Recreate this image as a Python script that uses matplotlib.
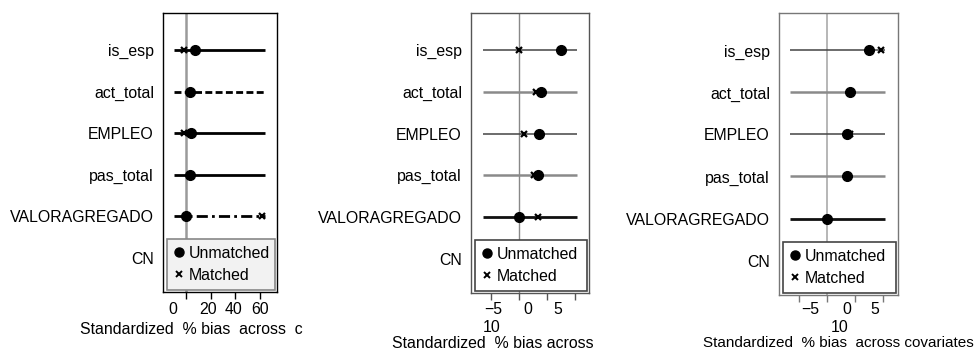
import matplotlib
matplotlib.use("Agg")
import matplotlib.pyplot as plt
import matplotlib.transforms as mtransforms
import numpy as np
from matplotlib.lines import Line2D

plt.rcParams["font.family"] = ["Liberation Sans", "DejaVu Sans"]
plt.rcParams["font.size"] = 11.4

# data
variables = ["is_esp", "act_total", "EMPLEO", "pas_total", "VALORAGREGADO", "CN"]
nan = np.nan

unmatched_1 = [7.3, 3.4, 3.7, 3.0, 0.0, nan]
matched_1 = [-1.6, nan, -1.6, nan, 62.0, nan]
range_1 = (-9.8, 64.0)

unmatched_2 = [7.5, 3.9, 3.6, 3.4, 0.0, nan]
matched_2 = [0.0, 3.0, 0.9, 2.7, 3.4, nan]
range_2 = (-6.4, 10.4)

unmatched_3 = [7.5, 4.1, 3.6, 3.6, 0.0, nan]
matched_3 = [9.6, nan, 4.1, nan, nan, nan]
range_3 = (-6.6, 10.4)

ticks_1 = [0, 20, 40, 60]
ticks_23 = [-5, 0, 5, 10]
# tick labels as printed (shifted in the source image)
labels_1 = [(-11, "0"), (17.6, "20"), (39, "40"), (60, "60")]
labels_2 = [(-4.6, "\u22125"), (1.6, "0"), (7.0, "5")]
labels_2b = [(-5.0, "10")]
labels_3 = [(-3.0, "\u22125"), (3.6, "0"), (8.6, "5")]
labels_3b = [(2.3, "10")]

W, H = 977, 352
fig = plt.figure(figsize=(W / 100, H / 100), dpi=100)


def px(x0, y0, x1, y1):
    return [x0 / W, 1 - y1 / H, (x1 - x0) / W, (y1 - y0) / H]


panels = [
    dict(rect=px(163, 13, 277, 292), unm=unmatched_1, mat=matched_1, rng=range_1,
         xlim=(-18.7, 74), ticks=ticks_1, spine="black",
         styles=["-", (0, (2.5, 1.2)), "-", "-", (0, (4, 1.5, 1, 1.5))],
         colors=["black"] * 5, lws=[2] * 5,
         vcolor="#9a9a9a", vlw=1.8, lab=labels_1, labb=[], title="Standardized  % bias  across  c",
         title_x=80, title_y=329, title_ha="left", title_fs=11.4,
         legface="#f2f2f2", legedge="#888888"),
    dict(rect=px(471, 13, 589, 293), unm=unmatched_2, mat=matched_2, rng=range_2,
         xlim=(-8.6, 12.5), ticks=ticks_23, spine="#555555",
         styles=["-"] * 5, colors=["#444444", "#8a8a8a", "#444444", "#8a8a8a", "#111111"],
         lws=[1.1, 1.8, 1.1, 1.8, 2.0],
         vcolor="#888888", vlw=1.0, lab=labels_2, labb=labels_2b, title="Standardized  % bias across",
         title_x=493, title_y=343, title_ha="center", title_fs=11.4,
         legface="white", legedge="#444444"),
    dict(rect=px(779, 13, 898, 295), unm=unmatched_3, mat=matched_3, rng=range_3,
         xlim=(-8.6, 12.7), ticks=ticks_23, spine="#777777",
         styles=["-"] * 5, colors=["#444444", "#8a8a8a", "#444444", "#8a8a8a", "#111111"],
         lws=[1.1, 1.8, 1.1, 1.8, 2.0],
         vcolor="#aaaaaa", vlw=1.2, lab=labels_3, labb=labels_3b,
         title="Standardized  % bias  across covariates",
         title_x=974, title_y=343, title_ha="right", title_fs=11.0,
         legface="white", legedge="#444444"),
]

ypos = np.arange(len(variables))[::-1] + 1  # is_esp at top

for p in panels:
    ax = fig.add_axes(p["rect"])
    ax.set_xlim(*p["xlim"])
    ax.set_ylim(0.18, 6.89)
    ax.axvline(0, color=p["vcolor"], lw=p["vlw"], zorder=1)
    for i in range(5):
        ax.hlines(ypos[i], p["rng"][0], p["rng"][1], color=p["colors"][i],
                  lw=p["lws"][i], linestyle=p["styles"][i], zorder=2)
    ax.plot(p["mat"], ypos, "x", color="black", ms=4.5, mew=1.6, zorder=3)
    ax.plot(p["unm"], ypos, "o", color="black", ms=7, zorder=4)

    ax.set_yticks(ypos)
    ax.set_yticklabels(variables)
    ax.tick_params(axis="y", length=0, pad=6.5)
    ax.set_xticks(p["ticks"])
    ax.set_xticklabels([])
    ax.tick_params(axis="x", length=5, width=1, color=p["spine"], direction="out")
    for s in ax.spines.values():
        s.set_color(p["spine"])
        s.set_linewidth(1)

    trans = mtransforms.blended_transform_factory(ax.transData, fig.transFigure)
    for x, t in p["lab"]:
        ax.text(x, 1 - 310 / H, t, transform=trans, ha="center", va="center", clip_on=False)
    for x, t in p["labb"]:
        ax.text(x, 1 - 327 / H, t, transform=trans, ha="center", va="center", clip_on=False)
    fig.text(p["title_x"] / W, 1 - p["title_y"] / H, p["title"], ha=p["title_ha"],
             va="center", fontsize=p["title_fs"])

    handles = [Line2D([], [], marker="o", color="black", ls="none", ms=6.5),
               Line2D([], [], marker="x", color="black", ls="none", ms=4, mew=1.4)]
    leg = ax.legend(handles, ["Unmatched", "Matched"], loc="lower left",
                    bbox_to_anchor=(0.035, 0.007, 0.95, 0.2), mode="expand",
                    borderaxespad=0, handlelength=0.6, handletextpad=0.3,
                    labelspacing=0.45, borderpad=0.45, fancybox=False, framealpha=1,
                    fontsize=11.4)
    leg.get_frame().set_facecolor(p["legface"])
    leg.get_frame().set_edgecolor(p["legedge"])
    leg.get_frame().set_linewidth(1.2)

fig.savefig("out.png", dpi=100)
